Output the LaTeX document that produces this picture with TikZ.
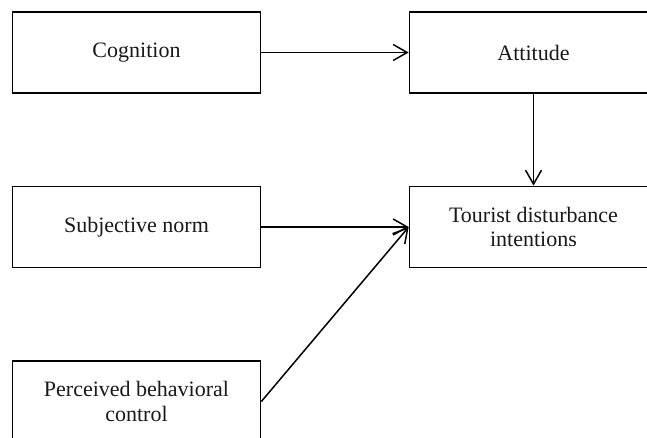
\documentclass[tikz,border=0pt]{standalone}
\usepackage{fontspec}
\setmainfont{Liberation Serif}
\usetikzlibrary{arrows.meta}
\begin{document}
\begin{tikzpicture}[x=1pt,y=-1pt,
  boxnode/.style={draw=black,line width=1.7pt,minimum width=248pt,minimum height=81pt,
    inner sep=0pt,align=center,font=\fontsize{22}{24.5}\selectfont,text=black!90},
  link/.style={line width=1.5pt,-{Straight Barb[length=14pt,width=16pt,line width=1.5pt]}}]
\useasboundingbox (0,0) rectangle (647,438);
\clip (0,0) rectangle (647,438);
\fill[white] (0,0) rectangle (647,438);
\node[boxnode] (cog) at (136.5,52.5) {Cognition};
\node[boxnode] (att) at (533.5,52.5) {Attitude};
\node[boxnode] (sub) at (136.5,227) {Subjective norm};
\node[boxnode] (tour) at (533.5,227) {Tourist disturbance\\intentions};
\node[boxnode] (perc) at (136.5,401.5) {Perceived behavioral\\control};
\draw[link] (cog) -- (att);
\draw[link] (att) -- (tour);
\draw[link] (sub) -- (tour);
\draw[link] (perc.east) -- (tour.west);
\end{tikzpicture}
\end{document}
